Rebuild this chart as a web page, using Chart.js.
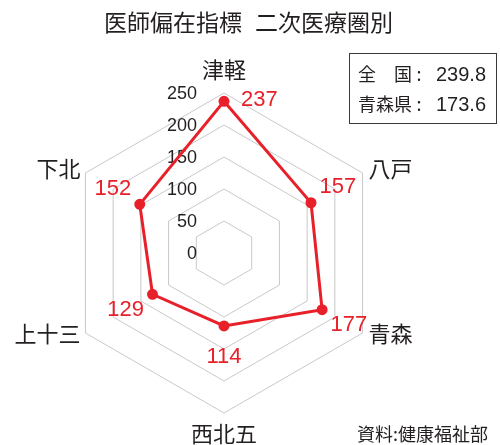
<!DOCTYPE html>
<html><head><meta charset="utf-8">
<script src="https://cdn.jsdelivr.net/npm/chart.js@4.4.0/dist/chart.umd.min.js"></script>
<style>html,body{margin:0;padding:0;background:#fff;} canvas{display:block;}</style>
</head><body>
<canvas id="c" width="500" height="445"></canvas>
<script>
const categories = ['津軽', '八戸', '青森', '西北五', '上十三', '下北'];
const values = [237, 157, 177, 114, 129, 152];
const tickValues = [0, 50, 100, 150, 200, 250];
const titleParts = ['医師偏在指標', '二次医療圏別'];
const legendNames = ['全　国', '青森県'];
const legendValues = ['239.8', '173.6'];
const sourceText = '資料:健康福祉部';

const RED = '#e8202a';
const TXT = '#231f20';
const JP = '"Noto Sans CJK JP", sans-serif';
const NUM = '"Liberation Sans", Arial, sans-serif';

const overlay = {
  id: 'overlay',
  beforeDatasetsDraw(chart) {
    const s = chart.scales.r, ctx = chart.ctx;
    ctx.save();
    ctx.fillStyle = TXT;
    ctx.font = '18px ' + NUM;
    ctx.textAlign = 'right';
    ctx.textBaseline = 'middle';
    tickValues.forEach(v => {
      ctx.fillText(String(v), s.xCenter - 27, s.yCenter - s.getDistanceFromCenterForValue(v) + 1);
    });
    ctx.restore();
  },
  afterDatasetsDraw(chart) {
    const s = chart.scales.r, ctx = chart.ctx;
    ctx.save();
    // title
    ctx.fillStyle = TXT;
    ctx.textBaseline = 'middle';
    ctx.font = '23px ' + JP;
    ctx.textAlign = 'left';
    ctx.fillText(titleParts[0], 104, 22);
    ctx.textAlign = 'right';
    ctx.fillText(titleParts[1], 393, 22);

    // point labels
    ctx.font = '22px ' + JP;
    categories.forEach((lab, i) => {
      const p = s.getPointPosition(i, s.drawingArea);
      const dx = p.x - s.xCenter, dy = p.y - s.yCenter;
      let x = p.x, y = p.y;
      if (Math.abs(dx) < 1) {
        ctx.textAlign = 'center';
        y += dy < 0 ? -23 : 21;
      } else {
        ctx.textAlign = dx > 0 ? 'left' : 'right';
        x += dx > 0 ? 6 : -5;
        y += dy < 0 ? -4 : 1;
      }
      ctx.fillText(lab, x, y);
    });

    // value labels
    ctx.fillStyle = RED;
    ctx.font = '22px ' + NUM;
    values.forEach((v, i) => {
      const d = s.getDistanceFromCenterForValue(v);
      if (i === 0) {
        const p = s.getPointPosition(i, d);
        ctx.textAlign = 'left';
        ctx.fillText(String(v), p.x + 17, p.y - 1);
      } else {
        const p = s.getPointPosition(i, d + 31);
        ctx.textAlign = 'center';
        ctx.fillText(String(v), p.x, p.y);
      }
    });

    // legend box
    ctx.strokeStyle = '#3a3a3a';
    ctx.lineWidth = 1;
    ctx.strokeRect(349.5, 53.5, 147, 70);
    ctx.fillStyle = TXT;
    legendNames.forEach((n, i) => {
      const y = 74 + i * 30;
      ctx.font = '18px ' + JP;
      ctx.textAlign = 'left';
      ctx.fillText(n, 358, y);
      ctx.textAlign = 'center';
      ctx.fillText(':', 419, y);
      ctx.font = '20px ' + NUM;
      ctx.textAlign = 'left';
      ctx.fillText(legendValues[i], 436, y + 1);
    });

    // source
    ctx.font = '18px ' + JP;
    ctx.textAlign = 'right';
    ctx.fillText(sourceText, 488, 434);
    ctx.restore();
  }
};

new Chart(document.getElementById('c'), {
  type: 'radar',
  data: {
    labels: categories,
    datasets: [{
      data: values,
      borderColor: RED,
      borderWidth: 3,
      pointBackgroundColor: RED,
      pointBorderColor: RED,
      pointRadius: 4,
      fill: false,
      tension: 0
    }]
  },
  options: {
    responsive: false,
    animation: false,
    devicePixelRatio: 1,
    layout: { padding: { left: 64, right: 116, top: 93, bottom: 32 } },
    plugins: { legend: { display: false }, tooltip: { enabled: false } },
    scales: {
      r: {
        min: 0, max: 250,
        ticks: { display: false, stepSize: 50 },
        pointLabels: { display: false },
        angleLines: { display: false },
        grid: { color: '#c8c8c8', lineWidth: 1 }
      }
    }
  },
  plugins: [overlay]
});
</script>
</body></html>
